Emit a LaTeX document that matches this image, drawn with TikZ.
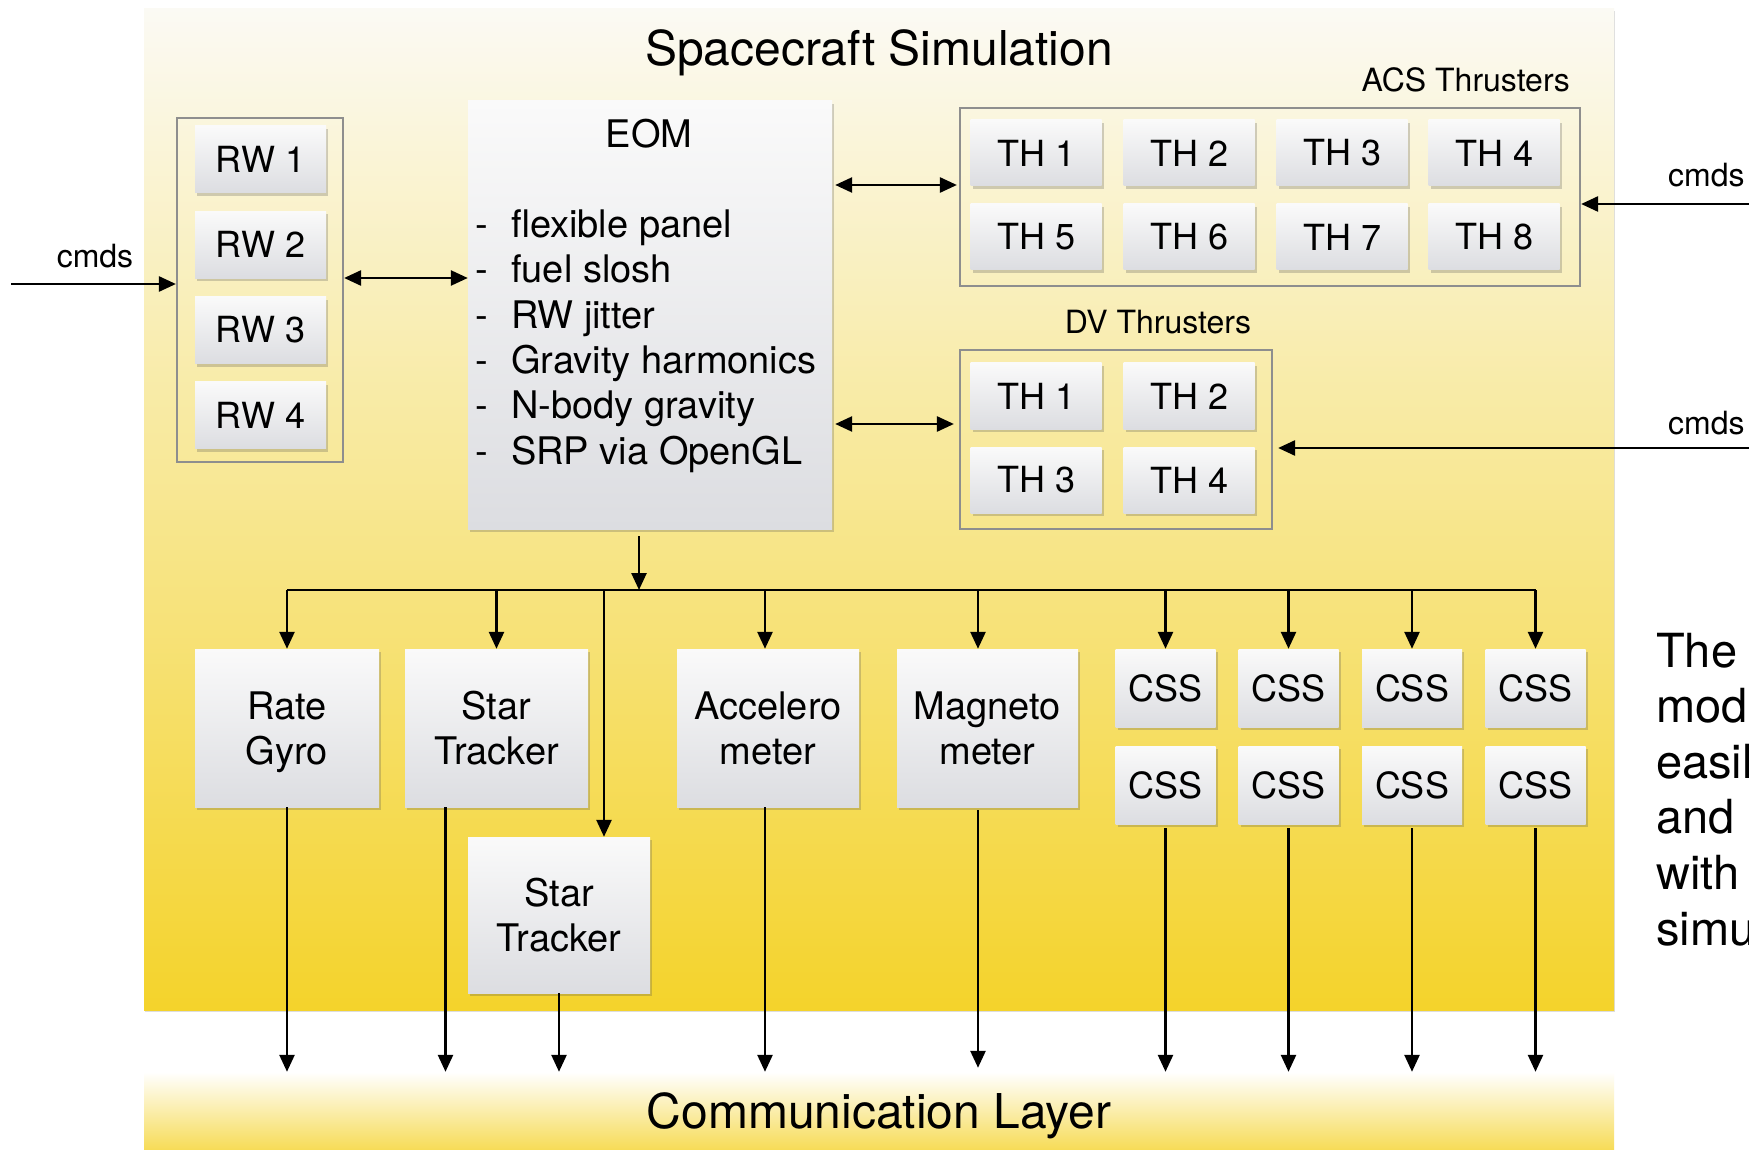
\documentclass[tikz,border=0pt]{standalone}
\usepackage{fontspec}
\setmainfont{TeX Gyre Heros}
\usetikzlibrary{arrows.meta,shadows}

\definecolor{panelTop}{HTML}{FBFAF4}
\definecolor{panelBot}{HTML}{F4D32B}
\definecolor{commBot}{HTML}{F5D63C}
\definecolor{boxTop}{HTML}{FAFAFA}
\definecolor{boxBot}{HTML}{DCDDE1}
\definecolor{grpLine}{HTML}{8E8E8E}

\tikzset{
  unit/.style={rectangle, inner sep=0pt, align=center,
    top color=boxTop, bottom color=boxBot,
    drop shadow={shadow xshift=2pt, shadow yshift=-3pt, opacity=0.25, fill=black!70}},
  grp/.style={rectangle, inner sep=0pt, draw=grpLine, line width=2.2pt},
  tip/.tip={Triangle[length=17pt,width=15pt]},
  wire/.style={line width=2.6pt},
  arr/.style={wire, -tip},
  darr/.style={wire, tip-tip},
  small/.style={font=\fontsize{32}{38}\selectfont, inner sep=0pt},
  unitfont/.style={font=\fontsize{36}{44}\selectfont},
  sensfont/.style={font=\fontsize{38}{45}\selectfont},
  listfont/.style={font=\fontsize{38}{45}\selectfont, inner sep=0pt},
  big/.style={font=\fontsize{48}{58}\selectfont, inner sep=0pt},
  note/.style={font=\fontsize{47}{56}\selectfont, inner sep=0pt},
}

\begin{document}
\begin{tikzpicture}[x=1pt, y=-1pt]
\useasboundingbox (0,0) rectangle (1749,1150);
\fill[white] (0,0) rectangle (1749,1150);

% simulation panel
\node[rectangle, inner sep=0pt, minimum width=1470pt, minimum height=1001pt,
      top color=panelTop, bottom color=panelBot,
      drop shadow={shadow xshift=1pt, shadow yshift=-2pt, opacity=0.22, fill=black!60}]
      (panel) at (879,509.5) {};
\node[big, anchor=base] (title) at (879,66) {Spacecraft Simulation};

% communication layer
\node[rectangle, inner sep=0pt, minimum width=1470pt, minimum height=90pt,
      top color=white, bottom color=commBot] (comm) at (879,1117) {};
\node[big, anchor=base] (commtxt) at (879,1128) {Communication Layer};

% reaction wheels
\node[grp, minimum width=166pt, minimum height=344pt] (rwgrp) at (260,290) {};
\foreach \i in {1,...,4}{
  \node[unit, unitfont, minimum width=131pt, minimum height=67pt]
        (rw\i) at (260.5,{159.5+85.3*(\i-1)}) {RW \i};
}

% equations of motion
\node[unit, minimum width=364pt, minimum height=428pt] (eom) at (650,315) {};
\node[listfont, anchor=base] (eomtitle) at (649,148) {EOM};
\foreach \t [count=\k] in {flexible panel, fuel slosh, RW jitter,
    Gravity harmonics, N-body gravity, SRP via OpenGL}{
  \node[listfont, anchor=base] (dash\k) at (482,{237.5+45.3*(\k-1)}) {-};
  \node[listfont, anchor=base west] (item\k) at (511,{237.5+45.3*(\k-1)}) {\t};
}

% ACS thrusters
\node[small, anchor=base east] (acslbl) at (1570,92) {ACS Thrusters};
\node[grp, minimum width=620pt, minimum height=178pt] (acs) at (1270,197) {};
\foreach \c [count=\j] in {1036,1189,1342,1494}{
  \pgfmathtruncatemacro{\na}{\j}
  \pgfmathtruncatemacro{\nb}{\j+4}
  \node[unit, unitfont, minimum width=131pt, minimum height=66pt] (acs\na) at (\c,153) {TH \na};
  \node[unit, unitfont, minimum width=131pt, minimum height=66pt] (acs\nb) at (\c,237) {TH \nb};
}

% DV thrusters
\node[small, anchor=base] (dvlbl) at (1158,334) {DV Thrusters};
\node[grp, minimum width=312pt, minimum height=179pt] (dv) at (1116,439.5) {};
\node[unit, unitfont, minimum width=131pt, minimum height=66pt] (dv1) at (1036,396) {TH 1};
\node[unit, unitfont, minimum width=131pt, minimum height=66pt] (dv2) at (1189,396) {TH 2};
\node[unit, unitfont, minimum width=131pt, minimum height=66pt] (dv3) at (1036,480) {TH 3};
\node[unit, unitfont, minimum width=131pt, minimum height=66pt] (dv4) at (1189,480) {TH 4};

% sensors
\node[unit, sensfont, text depth=0pt, minimum width=184pt, minimum height=158pt] (gyro) at (287,728) {Rate\\Gyro};
\node[unit, sensfont, minimum width=183pt, minimum height=158pt] (st1) at (496.5,728) {Star\\Tracker};
\node[unit, sensfont, minimum width=182pt, minimum height=156pt] (st2) at (559,915) {Star\\Tracker};
\node[unit, sensfont, minimum width=182pt, minimum height=158pt] (acc) at (768,728) {Accelero\\meter};
\node[unit, sensfont, minimum width=181pt, minimum height=158pt] (mag) at (987.5,728) {Magneto\\meter};
\foreach \c [count=\j] in {1165.5,1288.5,1412,1535.5}{
  \pgfmathtruncatemacro{\nb}{\j+4}
  \node[unit, unitfont, minimum width=100pt, minimum height=78pt] (css\j) at (\c,688) {CSS};
  \node[unit, unitfont, minimum width=100pt, minimum height=78pt] (css\nb) at (\c,785) {CSS};
}

% command inputs
\coordinate (cmdL) at (11,284);
\coordinate (cmdA) at (1749,204);
\coordinate (cmdD) at (1749,448);
\draw[arr] (cmdL) -- (cmdL -| rwgrp.west);
\node[small, anchor=base] (cmdLlbl) at (95,268) {cmds};
\draw[arr] (cmdA) -- (cmdA -| acs.east);
\node[small, anchor=base west] (cmdAlbl) at (1668,187) {cmds};
\draw[arr, shorten >=5pt] (cmdD) -- (cmdD -| dv.east);
\node[small, anchor=base west] (cmdDlbl) at (1668,434) {cmds};

% EOM exchanges
\coordinate (rwy) at (0,278);
\coordinate (acsy) at (0,185);
\coordinate (dvy) at (0,424);
\draw[darr] (rwy -| rwgrp.east) -- (rwy -| eom.west);
\draw[darr, shorten <=3pt, shorten >=2pt] (acsy -| eom.east) -- (acsy -| acs.west);
\draw[darr, shorten <=3pt, shorten >=5pt] (dvy -| eom.east) -- (dvy -| dv.west);

% distribution bus
\coordinate (busL) at (287,590);
\coordinate (busR) at (1536,590);
\coordinate (eomdrop) at (639,590);
\draw[arr] ([yshift=-7pt]eom.south -| eomdrop) -- (eomdrop);
\draw[wire] (busL) -- (busR);
\draw[arr] (busL) -- (gyro.north);
\draw[arr] (st1.north |- busL) -- (st1.north);
\draw[arr] ([xshift=45pt]st2.north |- busL) -- ([xshift=45pt]st2.north);
\draw[arr] ([xshift=-3pt]acc.north |- busL) -- ([xshift=-3pt]acc.north);
\draw[arr] ([xshift=-9.5pt]mag.north |- busL) -- ([xshift=-9.5pt]mag.north);
\foreach \j in {1,...,4}{
  \draw[arr] (css\j.north |- busL) -- (css\j.north);
}

% outputs to the communication layer
\draw[arr] (gyro.south) -- (gyro.south |- comm.north);
\draw[arr] ([xshift=-51pt]st1.south) -- ([xshift=-51pt]st1.south |- comm.north);
\draw[arr] (st2.south) -- (st2.south |- comm.north);
\draw[arr] ([xshift=-3pt]acc.south) -- ([xshift=-3pt]acc.south |- comm.north);
\draw[arr, shorten <=3pt, shorten >=4pt] ([xshift=-9.5pt]mag.south) -- ([xshift=-9.5pt]mag.south |- comm.north);
\foreach \j in {5,...,8}{
  \draw[arr, shorten <=4pt] (css\j.south) -- (css\j.south |- comm.north);
}

% side note
\foreach \w [count=\k] in {The, mod, easil, and, with, simu}{
  \node[note, anchor=base west] (note\k) at (1656,{667+55.6*(\k-1)}) {\w};
}
\end{tikzpicture}
\end{document}
